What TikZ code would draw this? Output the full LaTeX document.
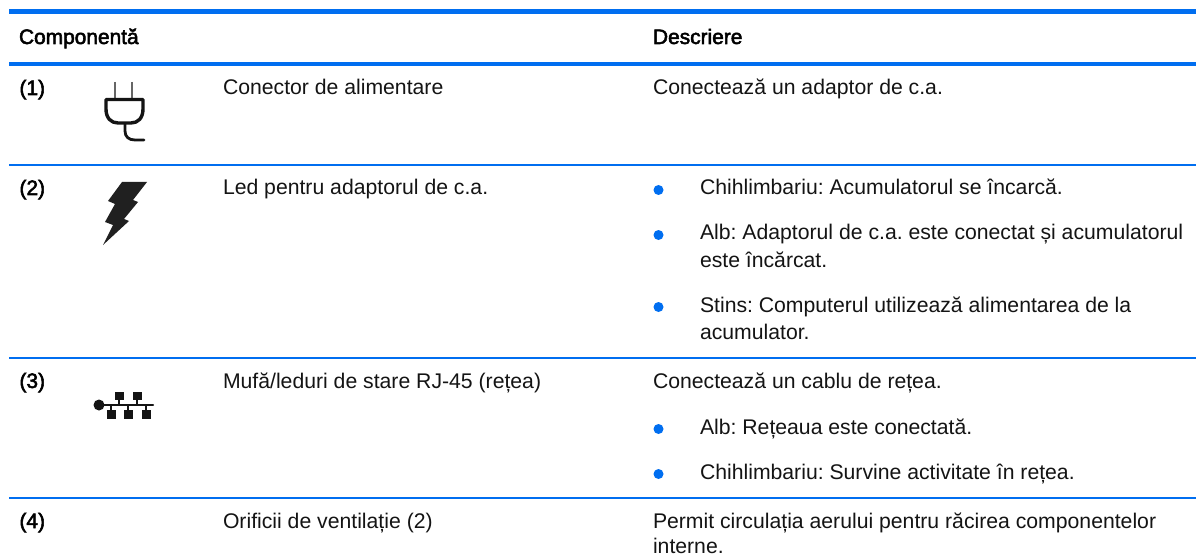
\documentclass[tikz,border=0pt]{standalone}
\usepackage{fontspec}
\setmainfont{Liberation Sans}
\newfontfamily\fauxbold[FakeBold=2.5]{Liberation Sans}
\definecolor{hpblue}{RGB}{0,110,240}
\definecolor{ink}{RGB}{20,20,20}
\frenchspacing
\tikzset{
 txt/.style={anchor=base west,inner sep=0pt,outer sep=0pt,text=ink,font=\fontsize{21.2}{25}\selectfont},
 head/.style={anchor=base west,inner sep=0pt,outer sep=0pt,text=black,font=\fauxbold\fontsize{20.9}{25}\selectfont},
 rule/.style={draw=hpblue,line width=1.5pt},
 bul/.style={circle,fill=hpblue,inner sep=0pt,minimum size=10pt},
 icon/.style={draw=ink,line cap=round,line join=round},
}
\begin{document}
\begin{tikzpicture}[x=1pt,y=-1pt]
\useasboundingbox (0,0) rectangle (1196,556);
\fill[white] (0,0) rectangle (1196,556);
\draw[rule,line width=5.5pt] (9,11.3) -- (1196,11.3);
\draw[rule,line width=3.2pt] (9,64) -- (1196,64);
\draw[rule] (9,165) -- (1196,165);
\draw[rule] (9,358) -- (1196,358);
\draw[rule] (9,498) -- (1196,498);
\node[head] (h1) at (19,44) {Componentă};
\node[head] (h2) at (653,44) {Descriere};
\node[head] (n1) at (19.5,95) {(1)};
\node[head] (n2) at (19.5,195) {(2)};
\node[head] (n3) at (19.5,388) {(3)};
\node[head] (n4) at (19.5,528) {(4)};
\node[txt] (c1) at (223,95) {Conector de alimentare};
\node[txt] (c2) at (223,195) {Led pentru adaptorul de c.a.};
\node[txt] (c3) at (223,388) {Mufă/leduri de stare RJ-45 (rețea)};
\node[txt] (c4) at (223,528) {Orificii de ventilație (2)};
\node[txt] (d1) at (653,95) {Conectează un adaptor de c.a.};
\node[bul] (b1) at (658.5,190) {};
\node[txt] (e1) at (700,195) {Chihlimbariu: Acumulatorul se încarcă.};
\node[bul] (b2) at (658.5,235) {};
\node[txt] (e2) at (700,240) {Alb: Adaptorul de c.a. este conectat și acumulatorul};
\node[txt] (e3) at (700,267) {este încărcat.};
\node[bul] (b3) at (658.5,307) {};
\node[txt] (e4) at (700,312) {Stins: Computerul utilizează alimentarea de la};
\node[txt] (e5) at (700,339) {acumulator.};
\node[txt] (d3) at (653,388) {Conectează un cablu de rețea.};
\node[bul] (b4) at (658.5,429) {};
\node[txt] (f1) at (700,434) {Alb: Rețeaua este conectată.};
\node[bul] (b5) at (658.5,474) {};
\node[txt] (f2) at (700,479) {Chihlimbariu: Survine activitate în rețea.};
\node[txt] (d4) at (653,528) {Permit circulația aerului pentru răcirea componentelor};
\node[txt] (d5) at (653,553) {interne.};
% plug icon
\draw[icon,line width=2.8pt,draw=ink!65,line cap=butt] (115,82) -- (115,99) (132,82) -- (132,99);
\draw[icon,line width=3.4pt] (106,99.5) -- (143,99.5) -- (143,109) .. controls (143,118) and (138,123) .. (131,123) -- (118,123) .. controls (111,123) and (106,118) .. (106,109) -- cycle;
\draw[icon,line width=2.8pt] (125,124) -- (125,131) .. controls (125,137) and (129,140) .. (135,140) -- (144,140);
% bolt icon
\fill[ink!95] (122,182) -- (147,182) -- (133,200) -- (138,202) -- (124,219) -- (129,221) -- (103,245) -- (113,225) -- (105,222) -- (115,204) -- (108,201) -- cycle;
% network icon
\draw[icon,line width=2.2pt] (99,405) -- (153,405);
\fill[ink] (99,405) circle (5.5pt);
\foreach \x in {119,137} {\fill[ink] (\x-4.5,391.5) rectangle (\x+4.5,399.5); \draw[icon,line width=1.5pt] (\x,399) -- (\x,405);}
\foreach \x in {111,128,146} {\fill[ink] (\x-4.5,410) rectangle (\x+4.5,419); \draw[icon,line width=1.5pt] (\x,405) -- (\x,410);}
\end{tikzpicture}
\end{document}
